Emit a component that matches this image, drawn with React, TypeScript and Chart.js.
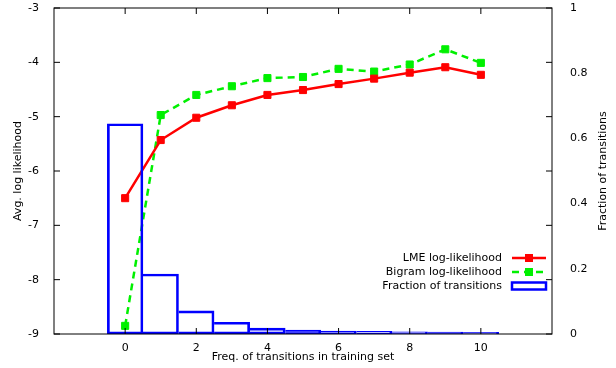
import { useEffect, useRef } from 'react';
import { Chart, registerables } from 'chart.js';

Chart.register(...registerables);

// ---- data ----
const freqValues = [0, 1, 2, 3, 4, 5, 6, 7, 8, 9, 10];
const lmeLogLikelihood = [-6.5, -5.43, -5.02, -4.79, -4.6, -4.51, -4.4, -4.3, -4.19, -4.09, -4.23];
const bigramLogLikelihood = [-8.85, -4.97, -4.6, -4.44, -4.29, -4.27, -4.12, -4.17, -4.04, -3.76, -4.01];
const fractionOfTransitions = [0.645, 0.184, 0.071, 0.036, 0.018, 0.012, 0.009, 0.008, 0.007, 0.006, 0.005];
const xTickValues = [0, 2, 4, 6, 8, 10];
const seriesLabels = ['LME log-likelihood', 'Bigram log-likelihood', 'Fraction of transitions'];
const xTitle = 'Freq. of transitions in training set';
const yTitle = 'Avg. log likelihood';
const y2Title = 'Fraction of transitions';

const FONT = "'DejaVu Sans', sans-serif";
const RED = '#ff0000';
const GREEN = '#00f000';
const BLUE = '#0000ff';

const framePlugin = {
  id: 'frameTicks',
  afterDatasetsDraw(chart: any) {
    const { ctx, chartArea: a, scales } = chart;
    ctx.save();
    ctx.strokeStyle = '#000';
    ctx.lineWidth = 1;
    ctx.beginPath();
    for (const v of xTickValues) {
      const px = scales.x.getPixelForValue(v);
      ctx.moveTo(px, a.bottom);
      ctx.lineTo(px, a.bottom - 6);
      ctx.moveTo(px, a.top);
      ctx.lineTo(px, a.top + 6);
    }
    for (const t of scales.y.ticks) {
      const py = scales.y.getPixelForValue(t.value);
      ctx.moveTo(a.left, py);
      ctx.lineTo(a.left + 6, py);
      ctx.moveTo(a.right, py);
      ctx.lineTo(a.right - 6, py);
    }
    ctx.stroke();
    ctx.strokeRect(a.left, a.top, a.right - a.left, a.bottom - a.top);
    ctx.restore();
  },
  afterDraw(chart: any) {
    const { ctx, chartArea: a } = chart;
    ctx.save();
    ctx.font = `11px ${FONT}`;
    ctx.fillStyle = '#000';
    // right axis title (reads bottom to top)
    ctx.save();
    ctx.translate(603, (a.top + a.bottom) / 2);
    ctx.rotate(-Math.PI / 2);
    ctx.textAlign = 'center';
    ctx.textBaseline = 'middle';
    ctx.fillText(y2Title, 0, 0);
    ctx.restore();
    // legend
    const rows = [a.bottom - 76, a.bottom - 62, a.bottom - 48];
    const textX = a.right - 50;
    const x0 = a.right - 40;
    const x1 = a.right - 6;
    chart.data.datasets.forEach((ds: any, i: number) => {
      const y = rows[i];
      ctx.textAlign = 'right';
      ctx.textBaseline = 'middle';
      ctx.fillStyle = '#000';
      ctx.fillText(ds.label, textX, y);
      if (ds.type === 'bar') {
        ctx.strokeStyle = ds.borderColor;
        ctx.lineWidth = 2.5;
        ctx.strokeRect(x0, y - 3.5, x1 - x0, 7);
      } else {
        ctx.strokeStyle = ds.borderColor;
        ctx.lineWidth = ds.borderWidth;
        ctx.setLineDash(ds.borderDash || []);
        ctx.beginPath();
        ctx.moveTo(x0, y);
        ctx.lineTo(x1, y);
        ctx.stroke();
        ctx.setLineDash([]);
        ctx.fillStyle = ds.borderColor;
        ctx.fillRect((x0 + x1) / 2 - 4, y - 4, 8, 8);
      }
    });
    ctx.restore();
  },
};

const zeroPad = (s: any) => {
  s.paddingTop = 0;
  s.paddingBottom = 0;
  s.paddingLeft = 0;
  s.paddingRight = 0;
};

export default function App() {
  const ref = useRef<HTMLCanvasElement | null>(null);

  useEffect(() => {
    if (!ref.current) return;
    const chart = new Chart(ref.current, {
      type: 'line',
      data: {
        datasets: [
          {
            type: 'line',
            label: seriesLabels[0],
            data: freqValues.map((x, i) => ({ x, y: lmeLogLikelihood[i] })),
            borderColor: RED,
            backgroundColor: RED,
            borderWidth: 2.5,
            pointStyle: 'rect',
            pointRadius: 5,
            pointBorderWidth: 1,
            yAxisID: 'y',
            order: 1,
          },
          {
            type: 'line',
            label: seriesLabels[1],
            data: freqValues.map((x, i) => ({ x, y: bigramLogLikelihood[i] })),
            borderColor: GREEN,
            backgroundColor: GREEN,
            borderWidth: 2.5,
            borderDash: [7, 5],
            pointStyle: 'rect',
            pointRadius: 5,
            pointBorderWidth: 1,
            yAxisID: 'y',
            order: 2,
          },
          {
            type: 'bar',
            label: seriesLabels[2],
            data: freqValues.map((x, i) => ({ x, y: fractionOfTransitions[i] })),
            borderColor: BLUE,
            backgroundColor: 'rgba(0,0,0,0)',
            borderWidth: 2,
            borderSkipped: (c: any) => (c.dataIndex === 0 ? false : 'left'),
            barPercentage: 1,
            categoryPercentage: 1,
            yAxisID: 'y2',
            order: -1,
          },
        ] as any,
      },
      options: {
        responsive: false,
        animation: false,
        layout: { padding: { top: 8, left: 0, right: 0, bottom: 0 } },
        plugins: { legend: { display: false }, tooltip: { enabled: false } },
        scales: {
          x: {
            type: 'linear',
            offset: false,
            min: -2,
            max: 12,
            grid: { display: false, offset: false },
            border: { display: false },
            ticks: {
              stepSize: 2,
              padding: 0,
              color: '#000',
              font: { family: FONT, size: 11 },
              callback: (v: any) => (xTickValues.includes(Number(v)) ? String(v) : ''),
            },
            title: {
              display: true,
              text: xTitle,
              color: '#000',
              font: { family: FONT, size: 11 },
              padding: { top: 0, bottom: 4 },
            },
            afterFit: (s: any) => {
              s.height = 34;
              zeroPad(s);
            },
          },
          y: {
            type: 'linear',
            position: 'left',
            min: -9,
            max: -3,
            grid: { display: false },
            border: { display: false },
            ticks: { stepSize: 1, padding: 7, color: '#000', font: { family: FONT, size: 11 } },
            title: {
              display: true,
              text: yTitle,
              color: '#000',
              font: { family: FONT, size: 11 },
              padding: { top: 12, bottom: 0 },
            },
            afterFit: (s: any) => {
              s.width = 54;
              zeroPad(s);
            },
          },
          y2: {
            type: 'linear',
            position: 'right',
            min: 0,
            max: 1,
            grid: { display: false },
            border: { display: false },
            ticks: {
              stepSize: 0.2,
              padding: 10,
              color: '#000',
              font: { family: FONT, size: 11 },
              callback: (v: any) => String(Math.round(Number(v) * 10) / 10),
            },
            afterFit: (s: any) => {
              s.width = 64;
              zeroPad(s);
            },
          },
        },
      } as any,
      plugins: [framePlugin],
    });
    return () => chart.destroy();
  }, []);

  return (
    <div style={{ position: 'fixed', left: 0, top: 0, width: 616, height: 368, background: '#fff' }}>
      <canvas ref={ref} width={616} height={368} style={{ display: 'block' }} />
    </div>
  );
}
